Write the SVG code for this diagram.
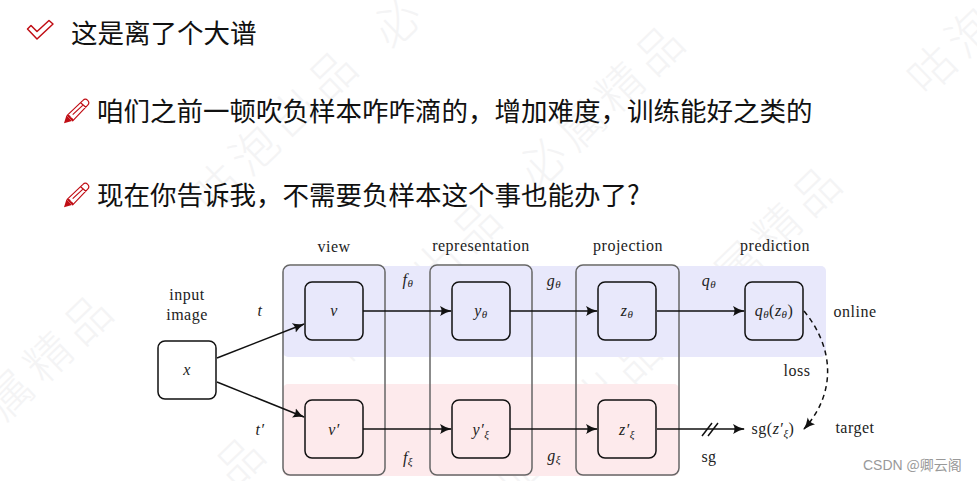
<svg xmlns="http://www.w3.org/2000/svg" width="977" height="481" viewBox="0 0 977 481">
<style>
.cn{font-family:"Noto Sans CJK SC","Liberation Sans",sans-serif;font-size:26.5px;fill:#111}
.wm{font-family:"Noto Sans CJK SC",sans-serif;font-size:46px;font-weight:300;letter-spacing:8px;fill:#f4f4f5}
.t{font-family:"Liberation Serif","DejaVu Serif",serif;font-size:16px;letter-spacing:.5px;fill:#222;text-anchor:middle}
.m{font-style:italic}
.s{font-size:11px;font-style:italic}
.node{fill:none;stroke:#111;stroke-width:1.5}
.col{fill:none;stroke:#666;stroke-width:1.5}
.conn{fill:none;stroke:#111;stroke-width:1.5}
.icon{fill:none;stroke:#c00d14;stroke-width:1.5;stroke-linejoin:round}
</style>
<defs>
<marker id="arr" markerWidth="14" markerHeight="12" refX="11" refY="6" orient="auto" markerUnits="userSpaceOnUse"><path d="M0 1 Q6 5 12 6 Q6 7 0 11 Q3 6 0 1Z" fill="#111"/></marker>
<g id="pencil"><path class="icon" d="M4 22 L24 3 Q27 0 30 3 L30 3 Q33 6 30 9 L11 29 Z M4 22 Q8 22 8 25 Q11 25 11 29 M21 6 L28 12 M11 21 L24 9"/><path d="M0 32 L3 22 L10 29 Z" fill="#c00d14"/></g>
</defs>
<rect width="977" height="481" fill="#fff"/>
<g id="watermark">
<text class="wm" x="-23" y="16" transform="translate(216 188) rotate(-44)">咕泡出品</text>
<text class="wm" x="-23" y="16" transform="translate(397 23) rotate(-44)">必</text>
<text class="wm" x="-23" y="16" transform="translate(543 163) rotate(-44)">必属精品</text>
<text class="wm" x="-23" y="16" transform="translate(10 395) rotate(-44)">属精品</text>
<text class="wm" x="-23" y="16" transform="translate(240 462) rotate(-44)">品</text>
<text class="wm" x="-23" y="16" transform="translate(360 340) rotate(-44)">咕泡出品</text>
<text class="wm" x="-23" y="16" transform="translate(520 471) rotate(-44)">咕泡出品</text>
<text class="wm" x="-23" y="16" transform="translate(700 304) rotate(-44)">必属精品</text>
<text class="wm" x="-23" y="16" transform="translate(932 70) rotate(-44)">咕泡</text>
</g>
<g id="bullets">
<path class="icon" d="M27.500 29 L31 25.500 L37 31.500 L49 20.500 L53 24 L37 39 Z" stroke-width="1.300"/>
<use href="#pencil" transform="translate(64 98) scale(.79)"/>
<use href="#pencil" transform="translate(64 182) scale(.79)"/>
</g>
<g id="headings">
<text class="cn" x="71" y="43">这是离了个大谱</text>
<text class="cn" x="97" y="121">咱们之前一顿吹负样本咋咋滴的&#xFF0C;增加难度&#xFF0C;训练能好之类的</text>
<text class="cn" x="97" y="205">现在你告诉我&#xFF0C;不需要负样本这个事也能办了?</text>
</g>
<g id="bands">
<rect x="283" y="266" width="543" height="91" rx="5" fill="#e8e8fb"/>
<rect x="283" y="384" width="396" height="92" rx="5" fill="#fdeaec"/>
</g>
<g id="col-view"><rect class="col" x="283" y="265" width="102" height="210" rx="7"/><text class="t" x="334" y="252">view</text></g>
<g id="col-representation"><rect class="col" x="430" y="265" width="102" height="210" rx="7"/><text class="t" x="481" y="251">representation</text></g>
<g id="col-projection"><rect class="col" x="576" y="265" width="103" height="210" rx="7"/><text class="t" x="628" y="251">projection</text></g>
<g id="col-prediction"><text class="t" x="775" y="251">prediction</text></g>
<g id="connectors">
<path class="conn" marker-end="url(#arr)" d="M217 358 L304 324"/>
<path class="conn" marker-end="url(#arr)" d="M217 382 L304 417"/>
<path class="conn" marker-end="url(#arr)" d="M363 311 L451 311"/>
<path class="conn" marker-end="url(#arr)" d="M510 311 L597 311"/>
<path class="conn" marker-end="url(#arr)" d="M657 311 L744 311"/>
<path class="conn" marker-end="url(#arr)" d="M363 429 L451 429"/>
<path class="conn" marker-end="url(#arr)" d="M510 429 L597 429"/>
<path class="conn" marker-end="url(#arr)" d="M657 429 L744 429"/>
<path class="conn" d="M702 436 L712 423 M708 436 L718 423"/>
<path class="conn" marker-end="url(#arr)" stroke-dasharray="5 4" d="M804 311 C836 350 835 395 804 429"/>
</g>
<g id="node-x"><rect class="node" x="158" y="341" width="58" height="58" rx="7"/><text class="t m" x="187" y="375">x</text></g>
<g id="node-v"><rect class="node" x="305" y="282" width="58" height="58" rx="7"/><text class="t m" x="334" y="316">v</text></g>
<g id="node-v-prime"><rect class="node" x="305" y="400" width="58" height="58" rx="7"/><text class="t m" x="334" y="435">v′</text></g>
<g id="node-y"><rect class="node" x="452" y="282" width="58" height="58" rx="7"/><text class="t" x="481" y="316"><tspan class="m">y</tspan><tspan class="s" dy="2">θ</tspan></text></g>
<g id="node-y-prime"><rect class="node" x="452" y="400" width="58" height="58" rx="7"/><text class="t" x="481" y="435"><tspan class="m">y′</tspan><tspan class="s" dy="3">ξ</tspan></text></g>
<g id="node-z"><rect class="node" x="598" y="282" width="58" height="58" rx="7"/><text class="t" x="627" y="316"><tspan class="m">z</tspan><tspan class="s" dy="2">θ</tspan></text></g>
<g id="node-z-prime"><rect class="node" x="598" y="400" width="58" height="58" rx="7"/><text class="t" x="627" y="435"><tspan class="m">z′</tspan><tspan class="s" dy="3">ξ</tspan></text></g>
<g id="node-q"><rect class="node" x="745" y="282" width="58" height="58" rx="7"/><text class="t" x="774" y="316"><tspan class="m">q</tspan><tspan class="s" dy="2">θ</tspan><tspan dy="-2">(</tspan><tspan class="m">z</tspan><tspan class="s" dy="2">θ</tspan><tspan dy="-2">)</tspan></text></g>
<g id="labels">
<text class="t" x="187" y="300">input</text>
<text class="t" x="187" y="320">image</text>
<text class="t m" x="260" y="316">t</text>
<text class="t m" x="260" y="435">t′</text>
<text class="t" x="408" y="285"><tspan class="m">f</tspan><tspan class="s" dy="2">θ</tspan></text>
<text class="t" x="408" y="463"><tspan class="m">f</tspan><tspan class="s" dy="2">ξ</tspan></text>
<text class="t" x="554" y="286"><tspan class="m">g</tspan><tspan class="s" dy="2">θ</tspan></text>
<text class="t" x="554" y="461"><tspan class="m">g</tspan><tspan class="s" dy="2">ξ</tspan></text>
<text class="t" x="709" y="286"><tspan class="m">q</tspan><tspan class="s" dy="2">θ</tspan></text>
<text class="t" x="709" y="462">sg</text>
<text class="t" x="797" y="376">loss</text>
<text class="t" x="773" y="434">sg(<tspan class="m">z′</tspan><tspan class="s" dy="3">ξ</tspan><tspan dy="-3">)</tspan></text>
<text class="t" x="855" y="317">online</text>
<text class="t" x="855" y="433">target</text>
</g>
<text x="863" y="470" font-family="'Liberation Sans','Noto Sans CJK SC',sans-serif" font-size="14" fill="#999">CSDN <tspan font-family="'Noto Sans CJK SC',sans-serif">@卿云阁</tspan></text>
</svg>
